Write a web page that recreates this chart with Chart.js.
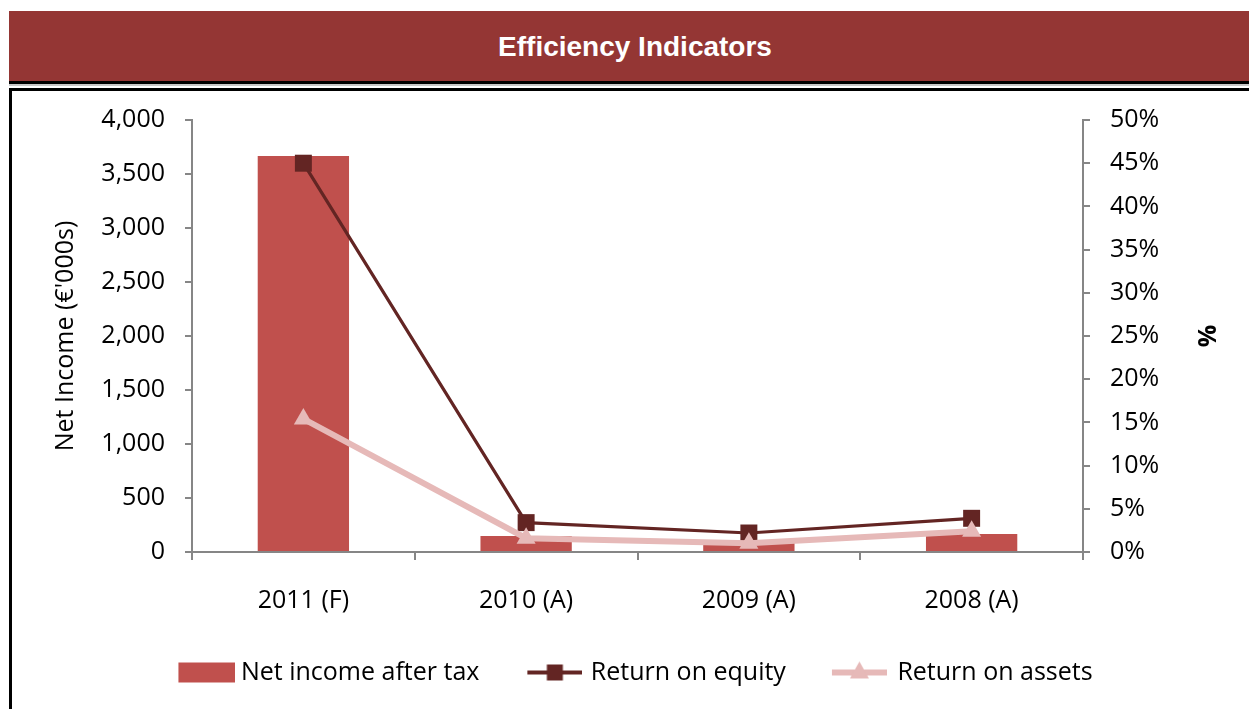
<!DOCTYPE html>
<html>
<head>
<meta charset="utf-8">
<script src="https://cdn.jsdelivr.net/npm/chart.js@4"></script>
<style>
  html, body { margin: 0; padding: 0; background: #fff; width: 1249px; height: 709px; overflow: hidden; }
  #titlebar { position: absolute; left: 9px; top: 11px; width: 1260px; height: 70px; background: #943634;
    color: #fff; font-family: "Liberation Sans", Arial, sans-serif; font-weight: bold; font-size: 28px;
    display: flex; align-items: center; justify-content: center; box-sizing: border-box; padding-right: 8px; padding-top: 2px; }
  #rule1 { position: absolute; left: 9px; top: 81px; width: 1260px; height: 3px; background: #000; }
  #rule2 { position: absolute; left: 9px; top: 84px; width: 1260px; height: 2px; background: #c8c8c8; }
  #box { position: absolute; left: 9px; top: 88px; width: 1260px; height: 640px; border-left: 3px solid #000; border-top: 3px solid #000; }
  #wrap { position: absolute; left: 12px; top: 91px; width: 1237px; height: 618px; }
</style>
</head>
<body>
<div id="titlebar">Efficiency Indicators</div>
<div id="rule1"></div>
<div id="rule2"></div>
<div id="box"></div>
<div id="wrap"><canvas id="c"></canvas></div>
<script>
const categories = ["2011 (F)", "2010 (A)", "2009 (A)", "2008 (A)"];
const netIncome = [3667, 148, 95, 167];
const returnOnEquity = [45.0, 3.4, 2.2, 3.9];
const returnOnAssets = [15.4, 1.6, 1.0, 2.4];
const seriesNames = ["Net income after tax", "Return on equity", "Return on assets"];
const leftTicks = [0, 500, 1000, 1500, 2000, 2500, 3000, 3500, 4000];
const rightTicks = [0, 5, 10, 15, 20, 25, 30, 35, 40, 45, 50];

const BAR = "#C0504D", ROE = "#632523", ROA = "#E6B9B8";
const FONT = "'Open Sans', 'Noto Sans', sans-serif";
const BOXW = 70;

function legendImg(visibleW, overhang, draw) {
  const c = document.createElement("canvas");
  c.width = BOXW + 2 * overhang;
  c.height = 26;
  const ctx = c.getContext("2d");
  const x0 = c.width - visibleW;
  draw(ctx, x0, visibleW, c.height / 2);
  return c;
}
const imgs = [
  legendImg(57, 7, (ctx, x0, w, cy) => { ctx.fillStyle = BAR; ctx.fillRect(x0, cy - 10, w, 20); }),
  legendImg(55, 4, (ctx, x0, w, cy) => {
    ctx.strokeStyle = ROE; ctx.lineWidth = 4; ctx.beginPath(); ctx.moveTo(x0, cy); ctx.lineTo(x0 + w, cy); ctx.stroke();
    ctx.fillStyle = ROE; ctx.fillRect(x0 + w / 2 - 8, cy - 8, 16, 16);
  }),
  legendImg(55, 2, (ctx, x0, w, cy) => {
    ctx.strokeStyle = ROA; ctx.lineWidth = 6; ctx.beginPath(); ctx.moveTo(x0, cy); ctx.lineTo(x0 + w, cy); ctx.stroke();
    ctx.fillStyle = ROA; const mx = x0 + w / 2; ctx.beginPath();
    ctx.moveTo(mx, cy - 11); ctx.lineTo(mx + 9.5, cy + 6); ctx.lineTo(mx - 9.5, cy + 6); ctx.closePath(); ctx.fill();
  })
];

const legendShift = {
  id: "legendShift",
  afterLayout(chart) { if (chart.legend) { chart.legend.left -= 5; chart.legend.right -= 5; } }
};

new Chart(document.getElementById("c"), {
  plugins: [legendShift],
  data: {
    labels: categories,
    datasets: [
      { type: "line", label: seriesNames[1], data: returnOnEquity, yAxisID: "y1", borderColor: ROE, backgroundColor: ROE,
        borderWidth: 3.2, pointStyle: "rect", pointRadius: 12, pointBorderWidth: 0, pointBackgroundColor: ROE, tension: 0, order: 1 },
      { type: "line", label: seriesNames[2], data: returnOnAssets, yAxisID: "y1", borderColor: ROA, backgroundColor: ROA,
        borderWidth: 6, pointStyle: "triangle", pointRadius: 11, pointBorderWidth: 0, pointBackgroundColor: ROA, tension: 0, order: 0 },
      { type: "bar", label: seriesNames[0], data: netIncome, yAxisID: "y", backgroundColor: BAR, borderWidth: 0,
        barPercentage: 0.41, categoryPercentage: 1, order: 2 }
    ]
  },
  options: {
    responsive: true, maintainAspectRatio: false, animation: false,
    layout: { padding: { top: 29, bottom: 14, left: 0, right: 0 } },
    plugins: {
      title: { display: false }, tooltip: { enabled: false },
      legend: {
        position: "bottom",
        labels: {
          usePointStyle: true, pointStyleWidth: BOXW, boxHeight: 25, padding: 29, color: "#000",
          font: { family: FONT, size: 25 },
          generateLabels: (chart) => [2, 0, 1].map((i, k) => ({
            text: chart.data.datasets[i].label, pointStyle: imgs[k], fillStyle: "transparent",
            strokeStyle: "transparent", lineWidth: 0, hidden: false, datasetIndex: i, fontColor: "#000"
          }))
        }
      }
    },
    scales: {
      x: {
        type: "category", offset: true,
        grid: { display: true, offset: true, drawOnChartArea: false, drawTicks: true, tickLength: 8, color: "#868686", lineWidth: 2 },
        border: { display: true, color: "#868686", width: 2 },
        ticks: { color: "#000", font: { family: FONT, size: 25 }, padding: 26 },
        afterFit: (s) => { s.height = 79; }
      },
      y: {
        position: "left", min: 0, max: 4000,
        afterBuildTicks: (s) => { s.ticks = leftTicks.map(v => ({ value: v })); },
        grid: { display: true, drawOnChartArea: false, drawTicks: true, tickLength: 7, color: "#868686", lineWidth: 2 },
        border: { display: true, color: "#868686", width: 2 },
        ticks: { color: "#000", font: { family: FONT, size: 25 }, padding: 20,
          callback: (v) => v.toLocaleString("en-US") },
        title: { display: true, text: "Net Income (€'000s)", color: "#000", font: { family: FONT, size: 25 }, padding: { top: 39, bottom: 0 } },
        afterFit: (s) => { s.width = 180; s.paddingTop = 10; s.paddingBottom = 10; }
      },
      y1: {
        position: "right", min: 0, max: 50,
        afterBuildTicks: (s) => { s.ticks = rightTicks.map(v => ({ value: v })); },
        grid: { display: true, drawOnChartArea: false, drawTicks: true, tickLength: 7, color: "#868686", lineWidth: 2 },
        border: { display: true, color: "#868686", width: 2 },
        ticks: { color: "#000", font: { family: FONT, size: 25 }, padding: 20, callback: (v) => v + "%" },
        title: { display: true, text: "%", color: "#000", font: { family: FONT, size: 25, weight: "bold" }, padding: { top: 29, bottom: 0 } },
        afterFit: (s) => { s.width = 166; s.paddingTop = 10; s.paddingBottom = 10; }
      }
    }
  }
});
</script>
</body>
</html>
